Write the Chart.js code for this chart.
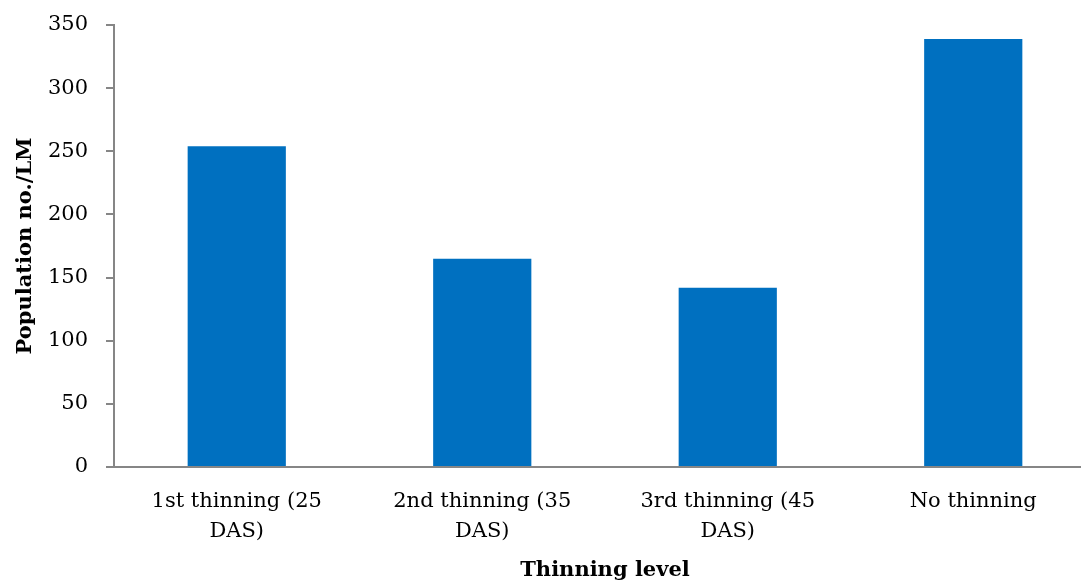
<!DOCTYPE html>
<html><head><meta charset="utf-8">
<script src="https://cdn.jsdelivr.net/npm/chart.js@4/dist/chart.umd.min.js"></script>
<style>html,body{margin:0;padding:0;background:#fff;overflow:hidden}#wrap{width:1100px;height:583px;position:relative}</style>
</head><body><div id="wrap"><canvas id="c" width="1100" height="583"></canvas></div>
<script>
const categories = [["1st thinning (25","DAS)"],["2nd thinning (35","DAS)"],["3rd thinning (45","DAS)"],["No thinning"]];
const populationValues = [254, 165, 142, 339];
const yTicks = [0,50,100,150,200,250,300,350];
const FONT = "'DejaVu Serif', 'Liberation Serif', serif";
new Chart(document.getElementById('c'), {
  type: 'bar',
  data: { labels: categories, datasets: [{ data: populationValues, backgroundColor: '#0070C0', barPercentage: 0.4, categoryPercentage: 1.0 }] },
  options: {
    responsive: false, animation: false,
    layout: { padding: { left: 0, right: 4, top: 25, bottom: 0 } },
    plugins: { legend: { display: false }, tooltip: { enabled: false } },
    scales: {
      x: {
        afterFit: s => { s.height = 116; },
        grid: { display: false },
        border: { display: true, color: '#868686', width: 2 },
        ticks: { color: '#000', font: { family: FONT, size: 21, lineHeight: 1.4 }, maxRotation: 0, padding: 12 },
        title: { display: true, text: 'Thinning level', color: '#000', font: { family: FONT, size: 21, weight: 'bold' }, padding: { top: 0, bottom: 0 } }
      },
      y: {
        min: 0, max: 350,
        afterFit: s => { s.width = 114; s.paddingTop = 0; },
        afterBuildTicks: s => { s.ticks = yTicks.map(v => ({ value: v })); },
        grid: { drawOnChartArea: false, drawTicks: true, tickLength: 8, color: '#868686', lineWidth: 2 },
        border: { display: true, color: '#868686', width: 2 },
        ticks: { color: '#000', font: { family: FONT, size: 21 }, padding: 18 },
        title: { display: true, text: 'Population no./LM', color: '#000', font: { family: FONT, size: 21, weight: 'bold' }, padding: { top: 13, bottom: 0 } }
      }
    }
  }
});
</script></body></html>
